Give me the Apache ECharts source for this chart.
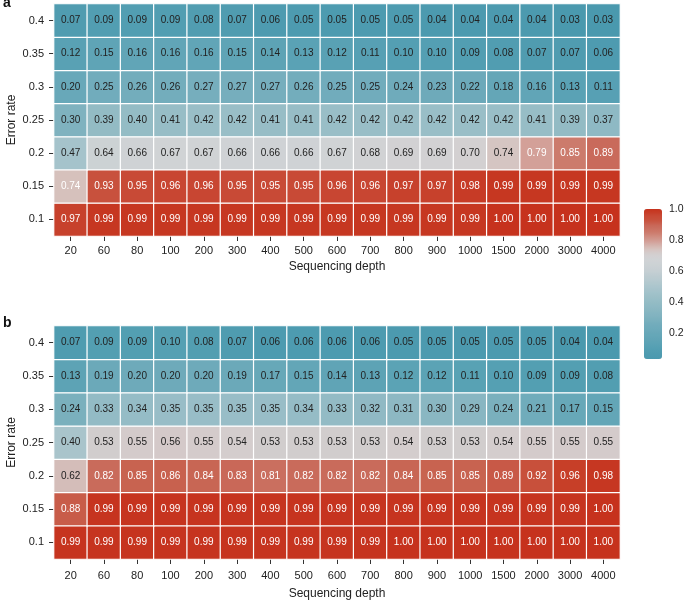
<!DOCTYPE html>
<html><head><meta charset="utf-8">
<script src="https://cdn.jsdelivr.net/npm/echarts@6/dist/echarts.min.js"></script>
<style>html,body{margin:0;padding:0;background:#fff}#c{width:685px;height:604px}</style>
</head><body><div id="c"></div>
<script>
const depths = ['20','60','80','100','200','300','400','500','600','700','800','900','1000','1500','2000','3000','4000'];
const errorRates = ['0.1','0.15','0.2','0.25','0.3','0.35','0.4'];
// rows ordered from error rate 0.1 (bottom) to 0.4 (top)
const panelA = [
  [0.97,0.99,0.99,0.99,0.99,0.99,0.99,0.99,0.99,0.99,0.99,0.99,0.99,1.00,1.00,1.00,1.00],
  [0.744,0.93,0.95,0.96,0.96,0.95,0.95,0.95,0.96,0.96,0.97,0.97,0.98,0.99,0.99,0.99,0.99],
  [0.47,0.64,0.66,0.67,0.67,0.66,0.66,0.66,0.67,0.68,0.69,0.69,0.70,0.736,0.79,0.85,0.89],
  [0.30,0.39,0.40,0.41,0.42,0.42,0.41,0.41,0.42,0.42,0.42,0.42,0.42,0.42,0.41,0.39,0.37],
  [0.20,0.25,0.26,0.26,0.27,0.27,0.27,0.26,0.25,0.25,0.24,0.23,0.22,0.18,0.16,0.13,0.11],
  [0.12,0.15,0.16,0.16,0.16,0.15,0.14,0.13,0.12,0.11,0.10,0.10,0.09,0.08,0.07,0.07,0.06],
  [0.07,0.09,0.09,0.09,0.08,0.07,0.06,0.05,0.05,0.05,0.05,0.04,0.04,0.04,0.04,0.03,0.03]
];
const panelB = [
  [0.99,0.99,0.99,0.99,0.99,0.99,0.99,0.99,0.99,0.99,1.00,1.00,1.00,1.00,1.00,1.00,1.00],
  [0.88,0.99,0.99,0.99,0.99,0.99,0.99,0.99,0.99,0.99,0.99,0.99,0.99,0.99,0.99,0.99,1.00],
  [0.62,0.82,0.85,0.86,0.84,0.83,0.81,0.82,0.82,0.82,0.84,0.85,0.85,0.89,0.92,0.96,0.98],
  [0.40,0.53,0.55,0.56,0.55,0.54,0.53,0.53,0.53,0.53,0.54,0.53,0.53,0.54,0.55,0.55,0.55],
  [0.24,0.33,0.34,0.35,0.35,0.35,0.35,0.34,0.33,0.32,0.31,0.30,0.29,0.24,0.21,0.17,0.15],
  [0.13,0.19,0.20,0.20,0.20,0.19,0.17,0.15,0.14,0.13,0.12,0.12,0.11,0.10,0.09,0.09,0.08],
  [0.07,0.09,0.09,0.10,0.08,0.07,0.06,0.06,0.06,0.06,0.05,0.05,0.05,0.05,0.05,0.04,0.04]
];
const legendTicks = [0.2,0.4,0.6,0.8,1.0];

const FONT = 'Liberation Sans, Arial, Helvetica, sans-serif';
const stopsA = [[0.03,'#4a99ae'],[0.09,'#529eb2'],[0.15,'#5fa4b6'],[0.26,'#73adbc'],[0.30,'#7fb2bf'],[0.41,'#97bdc6'],[0.47,'#a4c3cb'],[0.60,'#c6cfd3'],[0.67,'#d0d3d5'],[0.70,'#d3d1d2'],[0.74,'#d6c4c0'],[0.79,'#d3a098'],[0.85,'#cc7a6b'],[0.89,'#c96a5b'],[0.93,'#c8503b'],[0.96,'#c84834'],[0.97,'#c7402a'],[1.0,'#c6321d']];
const stopsB = [[0.04,'#4a99ae'],[0.10,'#55a0b3'],[0.15,'#63a6b7'],[0.20,'#6daaba'],[0.24,'#7ab0be'],[0.35,'#98bdc6'],[0.40,'#a8c4cb'],[0.47,'#c2cbce'],[0.54,'#d4cdcd'],[0.62,'#d4beba'],[0.72,'#cf8f83'],[0.82,'#c96b5b'],[0.86,'#c8604d'],[0.89,'#c85947'],[0.92,'#c8503b'],[0.96,'#c73f28'],[0.99,'#c6331e'],[1.0,'#c6321d']];

function h2r(h){return [1,3,5].map(i=>parseInt(h.substr(i,2),16));}
function interp(stops,v){
  if(v<=stops[0][0]) return stops[0][1];
  for(let i=1;i<stops.length;i++){
    if(v<=stops[i][0]){
      const a=stops[i-1],b=stops[i],t=(v-a[0])/(b[0]-a[0]);
      const ca=h2r(a[1]),cb=h2r(b[1]);
      return 'rgb('+ca.map((c,k)=>Math.round(c+(cb[k]-c)*t)).join(',')+')';
    }
  }
  return stops[stops.length-1][1];
}
function ramp(stops,min,max,n){const o=[];for(let i=0;i<n;i++){o.push(interp(stops,min+(max-min)*i/(n-1)));}return o;}
function cells(panel,thr){
  const out=[];
  panel.forEach((row,yi)=>row.forEach((v,xi)=>out.push({value:[xi,yi,v],label:{color:v>thr?'#ffffff':'#222222'}})));
  return out;
}

const grids=[
  {left:54,width:566,top:4,height:232,outerBoundsMode:'none',containLabel:false},
  {left:54,width:566,top:326,height:233,outerBoundsMode:'none',containLabel:false},
  {left:644,width:18,top:209,height:150,outerBoundsMode:'none',containLabel:false}];
function xAx(gi,margin,gap){return {type:'category',gridIndex:gi,data:depths,axisLine:{show:false},
  axisTick:{show:true,alignWithLabel:true,length:5,lineStyle:{color:'#333',width:1}},
  axisLabel:{margin:margin,fontSize:11,color:'#222',fontFamily:FONT},splitLine:{show:false},
  name:'Sequencing depth',nameLocation:'middle',nameGap:gap,nameMoveOverlap:false,nameTextStyle:{fontSize:12,color:'#222',fontFamily:FONT}};}
function yAx(gi){return {type:'category',gridIndex:gi,data:errorRates,axisLine:{show:false},
  axisTick:{show:true,alignWithLabel:true,length:5,lineStyle:{color:'#333',width:1}},
  axisLabel:{margin:10,fontSize:11,color:'#222',fontFamily:FONT},splitLine:{show:false},
  name:'Error rate',nameLocation:'middle',nameGap:36,nameMoveOverlap:false,nameTextStyle:{fontSize:12,color:'#222',fontFamily:FONT}};}
function hm(gi,data){return {type:'heatmap',xAxisIndex:gi,yAxisIndex:gi,data:data,
  label:{show:true,fontSize:10,fontFamily:FONT,formatter:p=>p.value[2].toFixed(2)},
  itemStyle:{borderColor:'#ffffff',borderWidth:1.2},emphasis:{disabled:true}};}

const chart=echarts.init(document.getElementById('c'),null,{renderer:'canvas'});
chart.setOption({
  animation:false,
  backgroundColor:'#ffffff',
  grid:grids,
  xAxis:[xAx(0,9,25),xAx(1,11,29),{type:'category',gridIndex:2,data:[''],show:false}],
  yAxis:[yAx(0),yAx(1),{type:'value',gridIndex:2,min:0.03,max:1.0,position:'right',
    axisLine:{show:false},axisTick:{show:false},splitLine:{show:false},
    axisLabel:{customValues:legendTicks,formatter:v=>Number(v).toFixed(1),margin:7,fontSize:10.5,color:'#222',fontFamily:FONT}}],
  visualMap:[
    {type:'continuous',seriesIndex:0,min:0.03,max:1.0,inRange:{color:ramp(stopsA,0.03,1.0,80)},
     left:644,top:209,itemWidth:18,itemHeight:150,calculable:false,padding:0,show:true,hoverLink:false,
     textStyle:{fontSize:0},text:null},
    {type:'continuous',seriesIndex:1,min:0.04,max:1.0,inRange:{color:ramp(stopsB,0.04,1.0,80)},show:false}
  ],
  graphic:[
    {type:'text',left:3,top:-4,style:{text:'a',font:'bold 14px '+FONT,fill:'#111'}},
    {type:'text',left:3,top:316,style:{text:'b',font:'bold 14px '+FONT,fill:'#111'}}
  ],
  series:[hm(0,cells(panelA,0.74)),hm(1,cells(panelB,0.7))]
});
</script></body></html>
